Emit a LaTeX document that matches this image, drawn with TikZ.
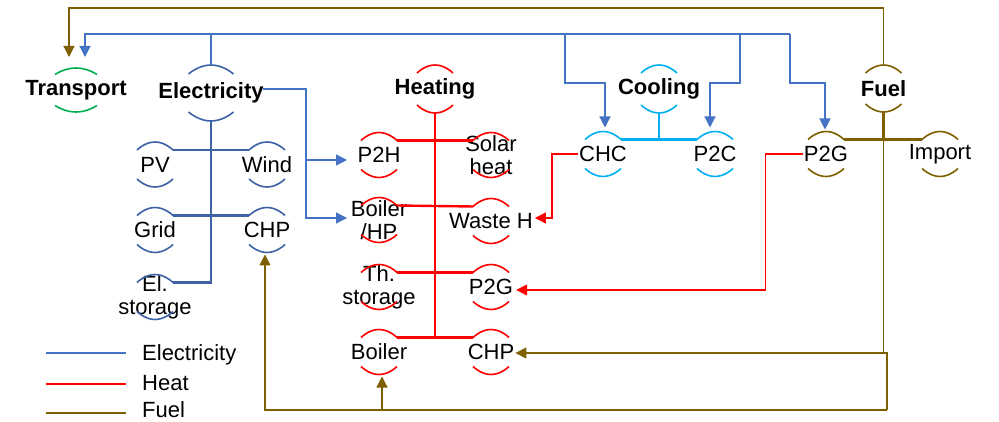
\documentclass[tikz,border=0pt]{standalone}
\usepackage{fontspec}
\setmainfont{Liberation Sans}
\usetikzlibrary{arrows.meta,calc}
\definecolor{elc}{HTML}{4472C4}
\definecolor{eltree}{HTML}{3D63A6}
\definecolor{heatc}{HTML}{FF0000}
\definecolor{coolc}{HTML}{00B0F0}
\definecolor{fuelc}{HTML}{7F6000}
\definecolor{trc}{HTML}{00B050}
% name, x, y (pixels, downward), half width, half height, sag, colour, text style, text
\newcommand\arcnode[9]{%
  \node[#8] (#1) at (#2,-#3) {#9};
  \coordinate (#1-t) at (#2,-#3+#5);
  \coordinate (#1-b) at (#2,-#3-#5);
  \coordinate (#1-tl) at (#2-#4,-#3+#5-#6);
  \coordinate (#1-tr) at (#2+#4,-#3+#5-#6);
  \coordinate (#1-bl) at (#2-#4,-#3-#5+#6);
  \coordinate (#1-br) at (#2+#4,-#3-#5+#6);
  \draw[arcline,#7] (#1-tl) parabola bend (#1-t) (#1-tr);
  \draw[arcline,#7] (#1-bl) parabola bend (#1-b) (#1-br);
}
\begin{document}
\begin{tikzpicture}[x=1pt,y=1pt,
  lbl/.style={font=\fontsize{22}{23}\selectfont, inner sep=1pt, align=center},
  blbl/.style={font=\fontsize{22}{23}\selectfont\bfseries, inner sep=1pt},
  arcline/.style={line width=1.6pt},
  tree/.style={line width=2.4pt},
  conn/.style={line width=1.2pt},
  tip/.style={-{Triangle[width=11pt,length=11pt]}},
]
\useasboundingbox (0,0) rectangle (999,-422);

% ---- nodes ----
\arcnode{Transport}{76}{90}{21}{22}{6.5}{trc}{blbl}{Transport}
\arcnode{Elec}{211}{93}{22.5}{28}{9}{eltree}{blbl}{Electricity}
\arcnode{PV}{155}{164.5}{18}{22.5}{8}{eltree}{lbl}{PV}
\arcnode{Wind}{267}{164.5}{18}{22.5}{8}{eltree}{lbl}{Wind}
\arcnode{Grid}{155}{230}{18}{22.5}{8}{eltree}{lbl}{Grid}
\arcnode{CHPe}{267}{230}{18}{22.5}{8}{eltree}{lbl}{CHP}
\arcnode{Elst}{155}{297}{18}{22.5}{8}{eltree}{lbl}{El.\\storage}

\arcnode{Heat}{435}{89}{18}{24}{8}{heatc}{blbl}{Heating}
\arcnode{P2H}{379}{155}{18}{22.5}{8}{heatc}{lbl}{P2H}
\arcnode{Solar}{491}{155}{18}{22.5}{8}{heatc}{lbl}{Solar\\heat}
\arcnode{BHP}{379}{220}{18}{22.5}{8}{heatc}{lbl}{Boiler\\/HP}
\arcnode{WH}{491}{221}{18}{22.5}{8}{heatc}{lbl}{Waste H}
\arcnode{Thst}{379}{287}{18}{22.5}{8}{heatc}{lbl}{Th.\\storage}
\arcnode{P2Gh}{491}{287}{18}{22.5}{8}{heatc}{lbl}{P2G}
\arcnode{Boiler}{379}{352}{18}{22.5}{8}{heatc}{lbl}{Boiler}
\arcnode{CHPh}{491}{352}{18}{22.5}{8}{heatc}{lbl}{CHP}

\arcnode{Cool}{659}{89}{18}{24}{8}{coolc}{blbl}{Cooling}
\arcnode{CHC}{603}{154}{18}{22.5}{8}{coolc}{lbl}{CHC}
\arcnode{P2C}{715}{154}{18}{22.5}{8}{coolc}{lbl}{P2C}

\arcnode{Fuel}{883.5}{88.5}{18}{23.5}{8}{fuelc}{blbl}{Fuel}
\arcnode{P2Gf}{826}{154}{18}{22.5}{8}{fuelc}{lbl}{P2G}
\arcnode{Import}{940}{154}{18}{22.5}{8}{fuelc}{lbl}{Import}

% ---- trees ----
\draw[tree,eltree] (Elec-b) |- (Elst-tr);
\draw[tree,eltree] (PV-tr) -- (Wind-tl);
\draw[tree,eltree] (Grid-tr) -- (CHPe-tl);

\draw[tree,heatc] (Heat-b) -- (Heat-b |- Boiler-tr);
\draw[tree,heatc] (P2H-tr) -- (Solar-tl);
\draw[tree,heatc] (BHP-tr) -- (WH-tl);
\draw[tree,heatc] (Thst-tr) -- (P2Gh-tl);
\draw[tree,heatc] (Boiler-tr) -- (CHPh-tl);

\draw[tree,coolc] (Cool-b) -- (Cool-b |- CHC-tr);
\draw[tree,coolc] (CHC-tr) -- (P2C-tl);

\draw[tree,fuelc] (Fuel-b) -- (Fuel-b |- P2Gf-tr);
\draw[tree,fuelc] (P2Gf-tr) -- (Import-tl);

% ---- connectors ----
\coordinate (busR) at (790,-34);
\coordinate (busA) at (565,-34);
\coordinate (busB) at (740,-34);
\draw[conn,fuelc,tip] (Fuel-t) |- ($(Transport-t)+(-7,60)$) -- ($(Transport-t)+(-7,11)$);
\draw[conn,elc] (Elec-t) |- (busR);
\draw[conn,elc,tip] (Elec-t |- busR) -| ($(Transport-t)+(9,11)$);
\draw[conn,elc,tip] (busA) |- ($(CHC-t)+(2,48.5)$) -- ($(CHC-t)+(2,4)$);
\draw[conn,elc,tip] (busB) |- ($(P2C-t)+(-5,48.5)$) -- ($(P2C-t)+(-5,4)$);
\draw[conn,elc,tip] (busR) |- ($(P2Gf-t)+(-1,48.5)$) -- ($(P2Gf-t)+(-1,2)$);

\coordinate (elout) at ($(Elec)+(52,4)$);
\draw[conn,elc,tip] (elout) -| ($(P2H)+(-73,-5)$) -- ($(P2H)+(-32,-5)$);
\draw[conn,elc,tip] (elout) -| ($(BHP)+(-73,2)$) -- ($(BHP)+(-32,2)$);

\draw[conn,heatc,tip] (CHC.west) -| ($(WH.east)+(18,3)$) -- ($(WH.east)+(1,3)$);
\draw[conn,heatc,tip] (P2Gf.west) -| ($(P2Gh.east)+(251,-3)$) -- ($(P2Gh.east)+(2,-3)$);

\coordinate (fbus) at (Fuel-b |- P2Gf-tr);
\draw[conn,fuelc,tip] (fbus) |- ($(CHPh.east)+(0,-1)$);
\coordinate (fl) at (887,-410);
\draw[conn,fuelc] ($(fbus |- CHPh)+(0,-1)$) -| (fl);
\draw[conn,fuelc,tip] (fl) -| ($(CHPe-b)+(-2,-2)$);
\draw[conn,fuelc,tip] ($(Boiler-b |- fl)+(3,0)$) -- ($(Boiler-b)+(3,-2)$);

% ---- legend ----
\draw[conn,elc,line width=1.5pt] (46,-353) -- (126,-353);
\draw[conn,heatc,line width=1.5pt] (46,-384) -- (126,-384);
\draw[conn,fuelc,line width=1.5pt] (46,-413) -- (126,-413);
\node[lbl,anchor=west] (legE) at (141,-355) {Electricity};
\node[lbl,anchor=west] (legH) at (141,-383) {Heat};
\node[lbl,anchor=west] (legF) at (141,-410) {Fuel};
\end{tikzpicture}
\end{document}
